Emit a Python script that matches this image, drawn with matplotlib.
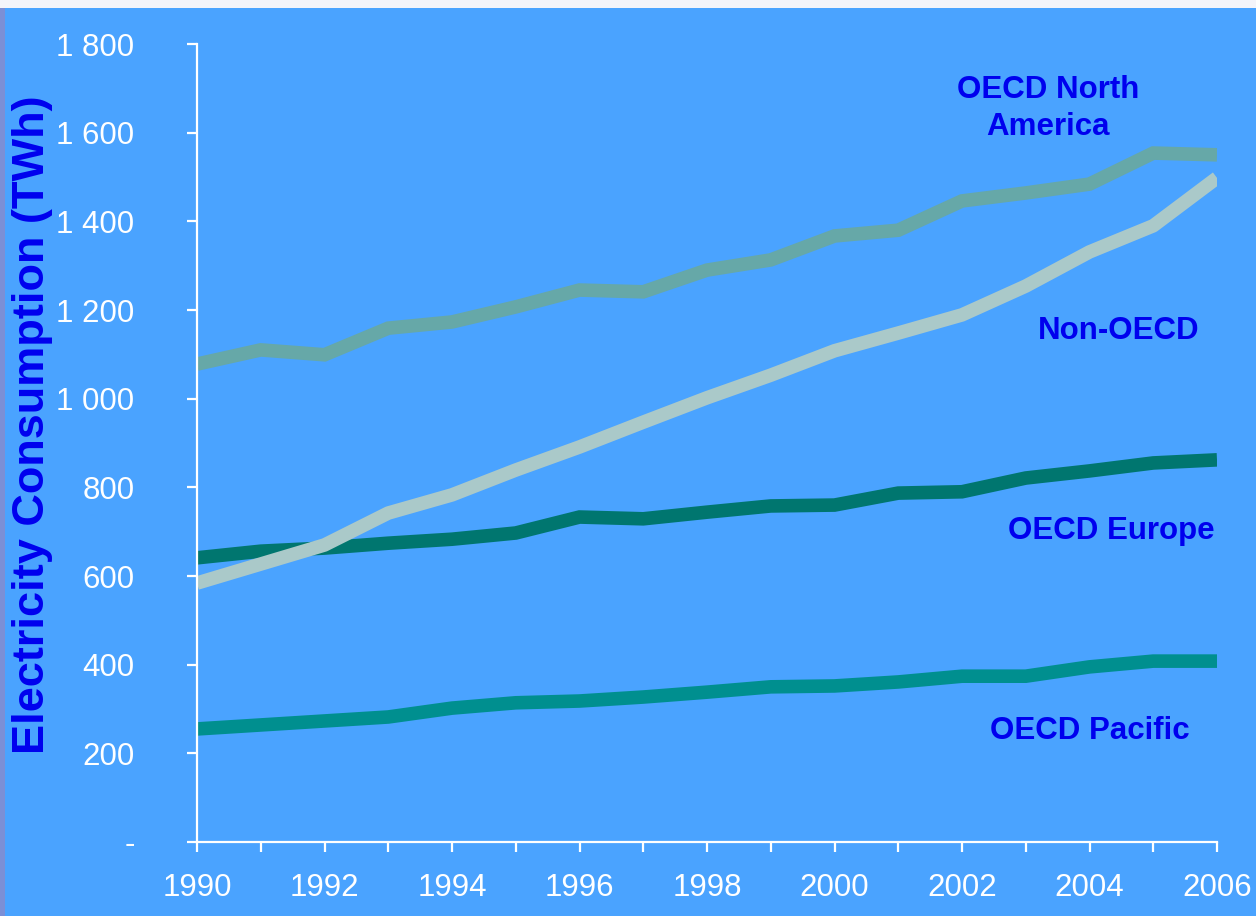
import matplotlib
matplotlib.use("Agg")
import matplotlib.pyplot as plt
from matplotlib.patches import Rectangle
from matplotlib.ticker import FuncFormatter, MultipleLocator

years = list(range(1990, 2007))

north_america = [1078, 1110, 1099, 1159, 1173, 1207, 1245, 1241, 1290, 1313,
                 1367, 1380, 1446, 1464, 1484, 1554, 1550]
non_oecd = [584, 627, 670, 742, 783, 839, 891, 947, 1002, 1053,
            1108, 1148, 1189, 1254, 1331, 1390, 1498]
europe = [641, 656, 663, 674, 683, 697, 733, 729, 744, 758,
          760, 787, 790, 821, 837, 855, 862]
pacific = [255, 264, 273, 282, 302, 314, 318, 327, 338, 350,
           352, 361, 374, 374, 395, 408, 408]

series_names = ["OECD North\nAmerica", "Non-OECD", "OECD Europe", "OECD Pacific"]
label_pos = [(2003.35, 1655), (2004.45, 1153), (2004.35, 702), (2004.0, 250)]

bg = "#4aa3ff"
label_blue = "#0000ee"

plt.rcParams['font.family'] = ['Liberation Sans', 'DejaVu Sans']

fig = plt.figure(figsize=(12.56, 9.16), dpi=100)
fig.patch.set_facecolor(bg)
# light strip on top and a purple-ish strip on the left, like the slide frame
fig.patches.append(Rectangle((0, 1 - 8 / 916), 1, 8 / 916, transform=fig.transFigure,
                             facecolor="#f3f4fa", edgecolor="none", zorder=0))
fig.patches.append(Rectangle((0, 0), 5 / 1256, 1 - 8 / 916, transform=fig.transFigure,
                             facecolor="#7b8fd6", edgecolor="none", zorder=0))

ax = fig.add_axes([197 / 1256, 1 - 842 / 916, (1217 - 197) / 1256, (842 - 44) / 916])
ax.set_facecolor("none")

lw = 9.8
ax.plot(years, north_america, color="#66a8a8", lw=lw, solid_capstyle="butt", solid_joinstyle="miter")
ax.plot(years, pacific, color="#008f8f", lw=lw, solid_capstyle="butt", solid_joinstyle="miter")
ax.plot(years, europe, color="#00766f", lw=lw, solid_capstyle="butt", solid_joinstyle="miter")
ax.plot(years, non_oecd, color="#aac9c9", lw=lw, solid_capstyle="butt", solid_joinstyle="round")

for name, (lx, ly) in zip(series_names, label_pos):
    ax.text(lx, ly, name, color=label_blue, fontsize=22.5, fontweight="bold",
            ha="center", va="center", linespacing=1.3)

ax.set_xlim(1990, 2006)
ax.set_ylim(0, 1800)

for side in ["top", "right"]:
    ax.spines[side].set_visible(False)
for side in ["left", "bottom"]:
    ax.spines[side].set_color("white")
    ax.spines[side].set_linewidth(1.6)

ax.yaxis.set_major_locator(MultipleLocator(200))
ax.yaxis.set_major_formatter(FuncFormatter(
    lambda v, p: "-" if v == 0 else f"{int(v):,}".replace(",", " ")))
ax.xaxis.set_major_locator(MultipleLocator(2))
ax.xaxis.set_minor_locator(MultipleLocator(1))

ax.tick_params(axis="y", colors="white", labelsize=22.5, length=7, width=1.6,
               direction="out", pad=38)
ax.tick_params(axis="x", which="both", colors="white", labelsize=22.5, length=7,
               width=1.6, direction="out", pad=15)

fig.text(33 / 1256, 1 - 425 / 916, "Electricity Consumption (TWh)", rotation=90,
         color=label_blue, fontsize=32.5, fontweight="bold", ha="center", va="center")

fig.savefig("out.png", dpi=100, facecolor=fig.get_facecolor())
